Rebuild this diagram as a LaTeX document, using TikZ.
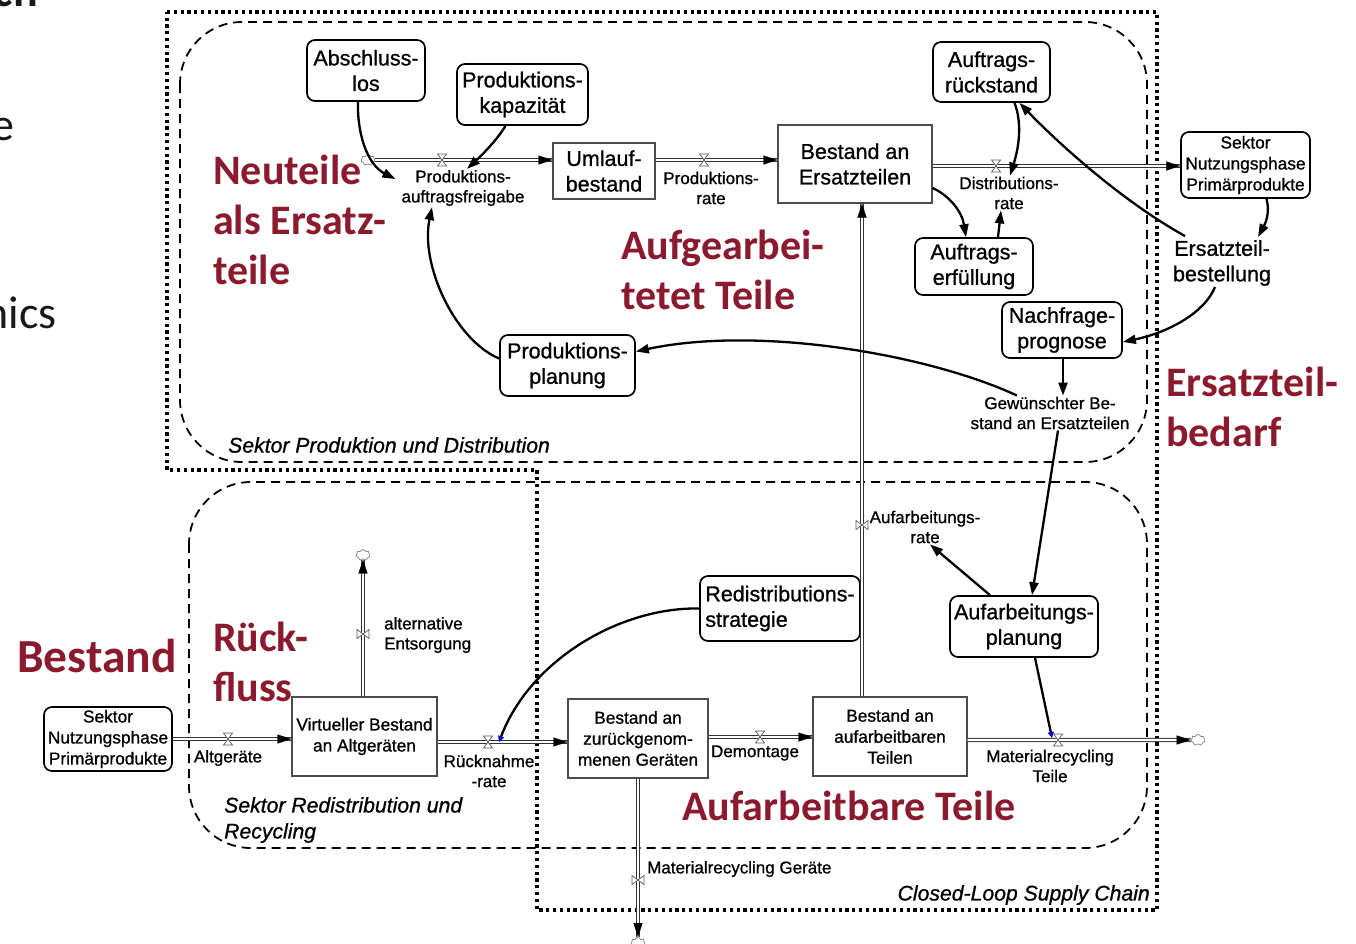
\documentclass[tikz,border=0pt]{standalone}
\usepackage{fontspec}
\setmainfont{Liberation Sans}[FakeBold=0.9]
\newfontfamily\calfont{Carlito}
\usetikzlibrary{arrows.meta,shapes.symbols,calc}

\definecolor{slidered}{RGB}{139,26,46}

\newcommand\boxfont{\fontsize{21.5}{25.5}\selectfont}
\newcommand\midfont{\fontsize{17.3}{21}\selectfont}
\newcommand\smallfont{\fontsize{17}{20}\selectfont}
\newcommand\redfont{\calfont\bfseries\fontsize{42}{50}\selectfont}

\tikzset{
  stock/.style={draw=black!70, line width=1.2pt, fill=white, align=center, font=\boxfont, inner sep=1pt},
  aux/.style={draw=black, line width=1.7pt, rounded corners=8pt, fill=white, align=center, font=\boxfont, inner sep=1pt},
  flowlbl/.style={align=center, font=\smallfont, inner sep=1pt},
  pipe/.style={draw=black!80, line width=0.9pt, double=white, double distance=2.4pt},
  pipehead/.style={draw=white, line width=0.2pt, -{Triangle[length=14pt,width=9pt,color=black,fill=black]}},
  link/.style={line width=2.3pt, -{Triangle[length=13pt,width=9pt]}},
  bluelink/.style={line width=2.3pt, -{Triangle[length=6pt,width=6pt,color=blue!80!black,fill=blue!80!black]}},
  sectorline/.style={line width=1.8pt, dash pattern=on 9pt off 6pt, rounded corners=62pt},
  outerframe/.style={line width=3.2pt, dash pattern=on 3.2pt off 3.6pt},
  sectorlbl/.style={font=\itshape\fontsize{21.2}{26}\selectfont, align=left, inner sep=0pt},
  redlbl/.style={text=slidered, font=\redfont, align=left, inner sep=0pt},
  sink/.style={cloud, cloud puffs=7, cloud puff arc=140, aspect=1.3, draw=black!45, line width=0.8pt, fill=white, minimum width=14pt, minimum height=11pt, inner sep=0pt},
  frag/.style={font=\calfont\fontsize{46}{50}\selectfont, text=black!90, inner sep=0pt},
  hvalve/.pic={\draw[black!65, line width=0.7pt, fill=white] (-4.5,-6) -- (4.5,-6) -- (-4.5,6) -- (4.5,6) -- cycle;},
  vvalve/.pic={\draw[black!65, line width=0.7pt, fill=white] (-6,-4.5) -- (-6,4.5) -- (6,-4.5) -- (6,4.5) -- cycle;}
}

\newcommand\pipeflow[2]{\draw[pipe] #1 -- #2; \draw[pipehead] #1 -- #2;}

\begin{document}
\begin{tikzpicture}[x=1pt,y=-1pt]
\useasboundingbox (0,0) rectangle (1356,943);
\clip (0,0) rectangle (1356,943);

% fragments of neighbouring slide text
\node[frag, font=\calfont\bfseries\fontsize{46}{50}\selectfont, anchor=base east] (fragT) at (38,6) {ch};
\node[frag, anchor=base east] (fragE) at (15,140) {e};
\node[frag, anchor=base east] (fragN) at (57,328) {nics};

% frames
\draw[outerframe] (167,12) -- (1157,12) -- (1157,910) -- (537,910) -- (537,470) -- (167,470) -- cycle;
\draw[sectorline] (180,22) rectangle (1147,462);
\draw[sectorline] (189,482) rectangle (1147,848);

% sector titles
\node[sectorlbl, anchor=west] (secPD) at (228,445) {Sektor Produktion und Distribution};
\node[sectorlbl, anchor=west] (secRR) at (224,820) {Sektor Redistribution und\\Recycling};
\node[sectorlbl, anchor=east] (secCL) at (1150,895) {Closed-Loop Supply Chain};

% production and distribution sector
\node[aux, minimum width=118pt, minimum height=61pt] (abs) at (366,70.5) {Abschluss-\\los};
\node[aux, minimum width=131pt, minimum height=61pt] (pkap) at (522.5,94.5) {Produktions-\\kapazit\"at};
\node[sink] (srcA) at (368,160) {};
\coordinate (vPAF) at (442,160);
\node[flowlbl] (lPAF) at (463,188) {Produktions-\\auftragsfreigabe};
\node[stock, minimum width=102pt, minimum height=56pt] (umlauf) at (604,171) {Umlauf-\\bestand};
\coordinate (vPR) at (704,160);
\node[flowlbl] (lPR) at (711,188) {Produktions-\\rate};
\node[stock, minimum width=154pt, minimum height=78pt] (bestE) at (855,164) {Bestand an\\Ersatzteilen};
\coordinate (vDR) at (996,166);
\node[flowlbl] (lDR) at (1009,193) {Distributions-\\rate};
\node[aux, font=\midfont, minimum width=129pt, minimum height=66pt] (sekT) at (1245.5,165) {Sektor\\Nutzungsphase\\Prim\"arprodukte};
\node[aux, minimum width=117pt, minimum height=60pt] (aRueck) at (991.5,72) {Auftrags-\\r\"uckstand};
\node[aux, minimum width=118pt, minimum height=57pt] (aErf) at (974,266.5) {Auftrags-\\erf\"ullung};
\node[align=center, font=\boxfont, inner sep=1pt] (ersB) at (1222,263) {Ersatzteil-\\bestellung};
\node[aux, minimum width=120pt, minimum height=56pt] (nachf) at (1062,330) {Nachfrage-\\prognose};
\node[flowlbl] (gew) at (1050,413) {Gew\"unschter Be-\\stand an Ersatzteilen};
\node[aux, minimum width=135pt, minimum height=61pt] (pplan) at (567.5,365.5) {Produktions-\\planung};

% redistribution and recycling sector
\node[aux, font=\midfont, minimum width=128pt, minimum height=64pt] (sekB) at (108,739) {Sektor\\Nutzungsphase\\Prim\"arprodukte};
\coordinate (vAlt) at (228,739);
\node[flowlbl] (lAlt) at (228,758) {Altger\"ate};
\node[stock, font=\midfont, minimum width=145pt, minimum height=79pt] (virt) at (364.5,736.5) {Virtueller Bestand\\an Altger\"aten};
\node[sink] (sinkE) at (363,555) {};
\coordinate (vEnt) at (363,634);
\node[flowlbl, align=left, anchor=west] (lEnt) at (383,635) {alternative\\Entsorgung};
\coordinate (vRN) at (488,742);
\node[flowlbl] (lRN) at (489,771) {R\"ucknahme\\-rate};
\node[stock, font=\midfont, minimum width=140pt, minimum height=79pt] (zur) at (638,738.5) {Bestand an\\zur\"uckgenom-\\menen Ger\"aten};
\coordinate (vDem) at (760,737);
\node[flowlbl] (lDem) at (755,753) {Demontage};
\node[stock, font=\midfont, minimum width=154pt, minimum height=79pt] (aufb) at (890,736.5) {Bestand an\\aufarbeitbaren\\Teilen};
\coordinate (vMRT) at (1058,740);
\node[flowlbl] (lMRT) at (1050,766) {Materialrecycling\\Teile};
\node[sink] (sinkF) at (1198,740) {};
\coordinate (vMRG) at (638,880);
\node[flowlbl, anchor=west] (lMRG) at (646,869) {Materialrecycling Ger\"ate};
\node[sink] (sinkG) at (638,943) {};
\coordinate (vAR) at (862,525);
\node[flowlbl] (lAR) at (925,527) {Aufarbeitungs-\\rate};
\node[aux, align=left, minimum width=160pt, minimum height=65pt] (redis) at (780,608.5) {Redistributions-\\strategie};
\node[aux, minimum width=148pt, minimum height=61pt] (aplan) at (1024,626.5) {Aufarbeitungs-\\planung};

% material flows
\pipeflow{(srcA.east)}{(srcA.east -| umlauf.west)}
\pipeflow{([yshift=11pt]umlauf.east)}{([yshift=11pt]umlauf.east -| bestE.west)}
\pipeflow{([yshift=-2pt]bestE.east)}{([yshift=-2pt]bestE.east -| sekT.west)}
\pipeflow{([xshift=-28pt]aufb.north)}{([xshift=-28pt]aufb.north |- bestE.south)}
\pipeflow{(sekB.east)}{(sekB.east -| virt.west)}
\pipeflow{([xshift=-1.5pt]virt.north)}{([xshift=-1.5pt]virt.north |- sinkE.south)}
\pipeflow{([yshift=-5.5pt]virt.east)}{([yshift=-5.5pt]virt.east -| zur.west)}
\pipeflow{([yshift=1.5pt]zur.east)}{([yshift=1.5pt]zur.east -| aufb.west)}
\pipeflow{([yshift=-3.5pt]aufb.east)}{(sinkF.west)}
\pipeflow{(zur.south)}{(sinkG.north)}

% valves
\pic at (vPAF) {hvalve};
\pic at (vPR) {hvalve};
\pic at (vDR) {hvalve};
\pic at (vAlt) {hvalve};
\pic at (vRN) {hvalve};
\pic at (vDem) {hvalve};
\pic at (vMRT) {hvalve};
\pic at (vAR) {vvalve};
\pic at (vEnt) {vvalve};
\pic at (vMRG) {vvalve};

% information links
\draw[link] ([xshift=-8pt]abs.south) .. controls (357,135) and (368,165) .. ([xshift=-5pt,yshift=9pt]lPAF.west);
\draw[link] ([xshift=-17pt]pkap.south) .. controls (497,140) and (482,155) .. ([xshift=4pt]lPAF.north);
\draw[link] ([yshift=7pt]pplan.west) .. controls (455,340) and (420,265) .. ([xshift=-31pt]lPAF.south);
\draw[link] ([xshift=23pt]aRueck.south) .. controls (1023,125) and (1018,150) .. ([xshift=1pt]lDR.north);
\draw[link] ([yshift=-24pt]bestE.east) .. controls (950,196) and (962,212) .. ([xshift=-8pt]aErf.north);
\draw[link] ([xshift=24pt]aErf.north) -- ([xshift=-8pt]lDR.south);
\draw[link] ([xshift=-37pt,yshift=3pt]ersB.north) .. controls (1120,200) and (1055,140) .. ([xshift=28pt]aRueck.south);
\draw[link] ([xshift=21pt]sekT.south) .. controls (1270,212) and (1266,222) .. ([xshift=36pt,yshift=2pt]ersB.north);
\draw[link] ([xshift=-7pt]ersB.south) .. controls (1205,312) and (1170,332) .. ([yshift=-12pt]nachf.east);
\draw[link] ([xshift=1pt]nachf.south) -- ([xshift=13pt]gew.north);
\draw[link] ([xshift=-33pt]gew.north) .. controls (930,355) and (760,325) .. ([yshift=14pt]pplan.east);
\draw[link] ([xshift=8pt]gew.south) -- ([xshift=8pt]aplan.north);
\draw[link] ([xshift=-34pt]aplan.north) -- ([xshift=5pt]lAR.south);
\draw[bluelink] ([xshift=11pt]aplan.south) -- ([xshift=-6pt,yshift=2pt]vMRT);
\draw[bluelink] (redis.west) .. controls (620,607) and (530,660) .. ([xshift=11pt]vRN);

% red annotations
\node[redlbl, anchor=west] (rNeu) at (213,220) {Neuteile\\als Ersatz-\\teile};
\node[redlbl, anchor=west] (rAuf) at (621,270) {Aufgearbei-\\tetet Teile};
\node[redlbl, anchor=west] (rErs) at (1166,407) {Ersatzteil-\\bedarf};
\node[redlbl, font=\calfont\bfseries\fontsize{47.5}{55}\selectfont, anchor=west] (rBest) at (17,656) {Bestand};
\node[redlbl, anchor=west] (rRueck) at (213,662) {R\"uck-\\fluss};
\node[redlbl, anchor=west] (rAufb) at (682,806) {Aufarbeitbare Teile};
\end{tikzpicture}
\end{document}
